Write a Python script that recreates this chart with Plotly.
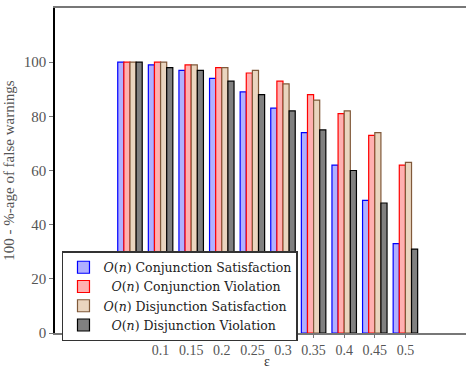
import plotly.graph_objects as go

eps = [0.05, 0.1, 0.15, 0.2, 0.25, 0.3, 0.35, 0.4, 0.45, 0.5]
tick_vals = [0.1, 0.15, 0.2, 0.25, 0.3, 0.35, 0.4, 0.45, 0.5]
tick_text = ["0.1", "0.15", "0.2", "0.25", "0.3", "0.35", "0.4", "0.45", "0.5"]

conj_sat = [100, 99, 97, 94, 89, 83, 74, 62, 49, 33]
conj_vio = [100, 100, 99, 98, 96, 93, 88, 81, 73, 62]
disj_sat = [100, 100, 99, 98, 97, 92, 86, 82, 74, 63]
disj_vio = [100, 98, 97, 93, 88, 82, 75, 60, 48, 31]

names = [
    "<i>O</i>(<i>n</i>) Conjunction Satisfaction",
    "  <i>O</i>(<i>n</i>) Conjunction Violation",
    "<i>O</i>(<i>n</i>) Disjunction Satisfaction",
    "  <i>O</i>(<i>n</i>) Disjunction Violation",
]
fills = ["#b0b0ff", "#ffb0b0", "#ead5bf", "#808080"]
lines = ["#0000ff", "#ff0000", "#80593a", "#000000"]
series = [conj_sat, conj_vio, disj_sat, disj_vio]

serif = "Liberation Serif, DejaVu Serif, serif"

fig = go.Figure()
for nm, vals, fc, lc in zip(names, series, fills, lines):
    fig.add_trace(go.Bar(x=eps, y=vals, name=nm,
                         marker=dict(color=fc, line=dict(color=lc, width=1.2))))

fig.add_annotation(text="ε", xref="paper", yref="paper", x=0.516, y=-0.088,
                   xanchor="center", yanchor="middle", showarrow=False,
                   font=dict(family=serif, size=14, color="#333"))

fig.update_layout(
    width=467, height=369,
    margin=dict(l=55, r=1, t=8, b=36),
    barmode="group", bargap=0.2, bargroupgap=0,
    plot_bgcolor="white", paper_bgcolor="white",
    font=dict(family=serif, size=14, color="#333"),
    legend=dict(x=0.017, y=0.252, xanchor="left", yanchor="top",
                bgcolor="white", bordercolor="#333", borderwidth=1.5,
                font=dict(family="DejaVu Serif, serif", size=12.5, color="#222"),
                tracegroupgap=0, itemwidth=30),
    xaxis=dict(range=[-0.0725, 0.599], tickvals=tick_vals, ticktext=tick_text,
               showline=True, linecolor="#777", linewidth=2, mirror=True,
               ticks="outside", ticklen=3, tickcolor="#777",
               showgrid=False, zeroline=False, automargin=False,
               tickfont=dict(family=serif, size=14, color="#555")),
    yaxis=dict(range=[0, 120], tickvals=[0, 20, 40, 60, 80, 100],
               showline=True, linecolor="black", linewidth=1.5,
               ticks="outside", ticklen=4, tickcolor="#777",
               showgrid=False, zeroline=False, automargin=False,
               title=dict(text="100 - %-age of false warnings",
                          font=dict(family=serif, size=15, color="#555"), standoff=6),
               tickfont=dict(family=serif, size=15, color="#555")),
)

fig.write_html("out.html", config={"displayModeBar": False},
               post_script="document.body.style.margin='0';document.body.style.overflow='hidden';")
